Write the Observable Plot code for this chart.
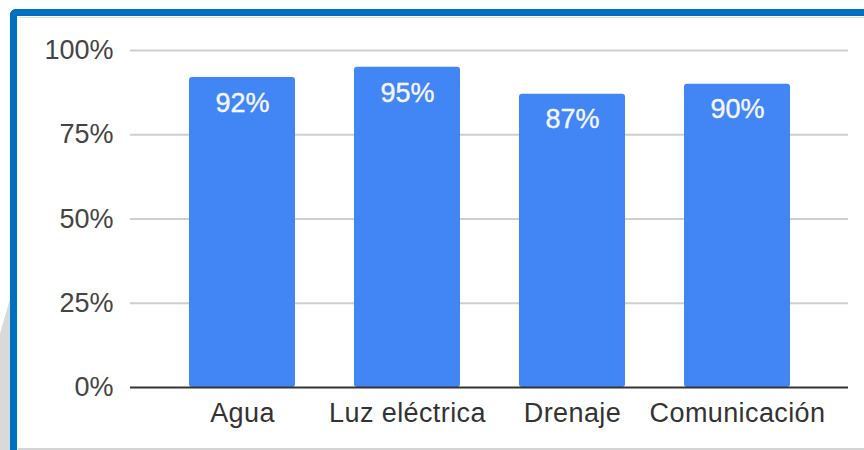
<!DOCTYPE html>
<html>
<head>
<meta charset="utf-8">
<script src="https://cdn.jsdelivr.net/npm/d3@7"></script>
<script src="https://cdn.jsdelivr.net/npm/@observablehq/plot@0.6"></script>
<style>
  html, body { margin: 0; padding: 0; background: #fff; width: 864px; height: 450px; overflow: hidden; position: relative; }
  #shadow { position: absolute; left: 0; top: 292px; width: 12px; height: 160px; background: #d9d9d9;
            clip-path: polygon(100% 0, 100% 100%, 0 100%, 0 26%); }
  #frame { position: absolute; left: 10px; top: 9px; width: 860px; height: 450px; box-sizing: border-box;
           border-top: 7.5px solid #0070c0; border-left: 7.5px solid #0070c0; border-top-left-radius: 6px; background: #fff; }
  #topline { position: absolute; left: 18px; top: 16.5px; width: 846px; height: 1px; background: #e2e2e2; }
  #bottomline { position: absolute; left: 18px; top: 448px; width: 846px; height: 2px; background: #d4d4d4; }
  #chart { position: absolute; left: 0; top: 0; }
  #chart svg g[aria-label="x-axis tick label"] text { letter-spacing: 0.4px; }
</style>
</head>
<body>
<div id="shadow"></div>
<div id="frame"></div>
<div id="topline"></div>
<div id="bottomline"></div>
<div id="chart"></div>
<script>
const categories = ["Agua", "Luz eléctrica", "Drenaje", "Comunicación"];
const values = [0.92, 0.95, 0.87, 0.90];
const yTicks = [0, 0.25, 0.5, 0.75, 1];

const data = categories.map((c, i) => ({category: c, value: values[i]}));
const pct = d3.format(".0%");

const chart = Plot.plot({
  width: 864,
  height: 450,
  marginLeft: 130,
  marginRight: 16,
  marginTop: 50,
  marginBottom: 63,
  style: {background: "transparent", fontFamily: "Arial, 'Liberation Sans', sans-serif", fontSize: "27px", color: "#444"},
  x: {domain: categories, paddingInner: 0.36, paddingOuter: 0.35, label: null},
  y: {domain: [0, 1], label: null},
  marks: [
    Plot.ruleY(yTicks.slice(1), {stroke: "#cfcfcf", strokeWidth: 2}),
    Plot.barY(data, {x: "category", y: "value", fill: "#4285f4", rx: 3}),
    Plot.ruleY([0], {stroke: "#333", strokeWidth: 2}),
    Plot.text(data, {x: "category", y: "value", text: d => pct(d.value), fill: "#f4f7ff", stroke: "#f4f7ff", strokeWidth: 0.4, lineAnchor: "top", dy: 15, fontSize: 27}),
    Plot.axisY({ticks: yTicks, tickFormat: pct, tickSize: 0, tickPadding: 17, fontSize: 27, fill: "#444", label: null}),
    Plot.axisX({tickSize: 0, tickPadding: 15, fontSize: 27, fill: "#333", label: null})
  ]
});
document.getElementById("chart").appendChild(chart);
</script>
</body>
</html>
